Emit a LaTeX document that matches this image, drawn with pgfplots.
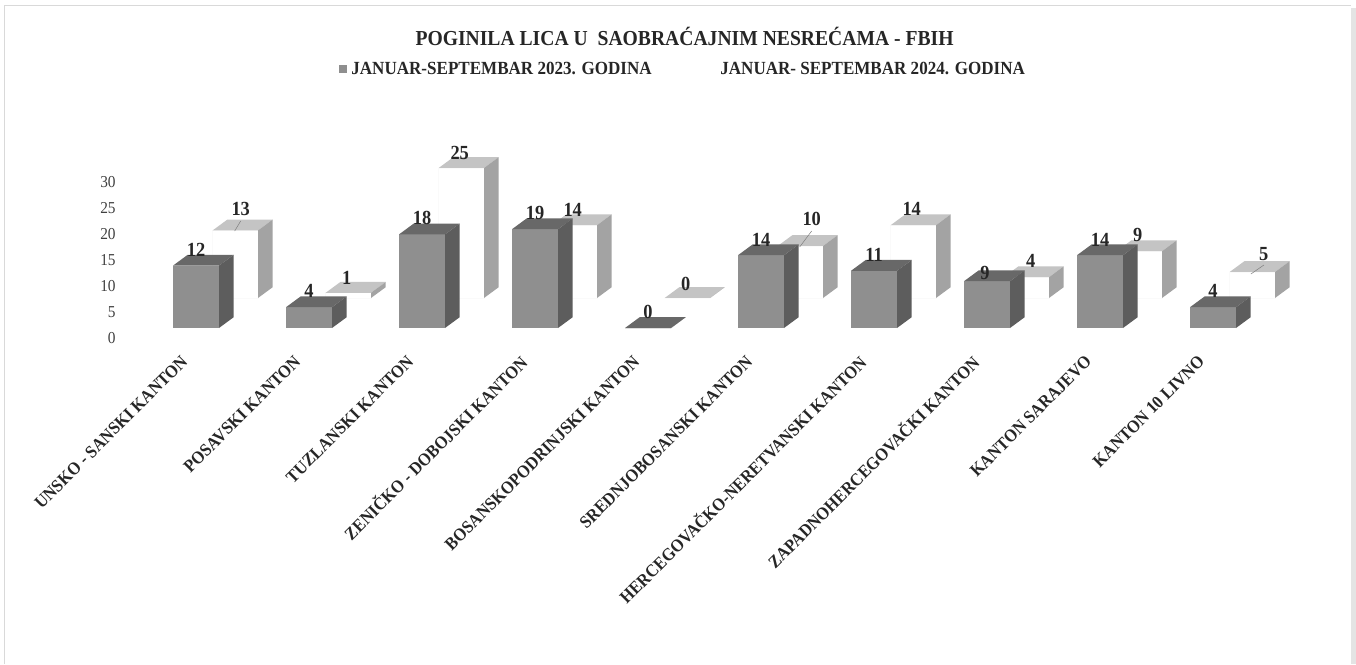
\documentclass[border=0pt]{standalone}
\usepackage{fontspec}
\setmainfont[FakeStretch=0.92]{Liberation Serif}
\usepackage{pgfplots}
\usepackage{pgfplotstable}
\pgfplotsset{compat=1.18}
\definecolor{frontA}{HTML}{8F8F8F}
\definecolor{topA}{HTML}{686868}
\definecolor{sideA}{HTML}{5D5D5D}
\definecolor{topB}{HTML}{C4C4C4}
\definecolor{sideB}{HTML}{A3A3A3}
\definecolor{ink}{HTML}{262626}
\definecolor{tickink}{HTML}{404040}
\definecolor{framec}{HTML}{D9D9D9}
\definecolor{paleedge}{HTML}{FAFAFA}
% 1 reference pixel = 0.75pt. Value unit = 5.2px = 3.9pt.
\pgfdeclareplotmark{boxA}{%
  \pgfmathsetmacro{\hh}{\vv*3.9}%
  \pgfsetfillcolor{frontA}%
  \pgfpathmoveto{\pgfpoint{-17.25pt}{0pt}}%
  \pgfpathlineto{\pgfpoint{17.25pt}{0pt}}%
  \pgfpathlineto{\pgfpoint{17.25pt}{-\hh pt}}%
  \pgfpathlineto{\pgfpoint{-17.25pt}{-\hh pt}}%
  \pgfpathclose\pgfusepathqfill
  \pgfsetfillcolor{topA}%
  \pgfpathmoveto{\pgfpoint{-17.25pt}{0pt}}%
  \pgfpathlineto{\pgfpoint{17.25pt}{0pt}}%
  \pgfpathlineto{\pgfpoint{28.25pt}{8.1pt}}%
  \pgfpathlineto{\pgfpoint{-6.25pt}{8.1pt}}%
  \pgfpathclose\pgfusepathqfill
  \pgfsetfillcolor{sideA}%
  \pgfpathmoveto{\pgfpoint{17.25pt}{0pt}}%
  \pgfpathlineto{\pgfpoint{28.25pt}{8.1pt}}%
  \pgfpathlineto{\pgfpoint{28.25pt}{8.1pt-\hh pt}}%
  \pgfpathlineto{\pgfpoint{17.25pt}{-\hh pt}}%
  \pgfpathclose\pgfusepathqfill
}
\pgfdeclareplotmark{boxB}{%
  \pgfmathsetmacro{\hh}{\vv*3.9}%
  \pgfsetfillcolor{white}%
  \pgfsetstrokecolor{paleedge}%
  \pgfsetlinewidth{0.5pt}%
  \pgfpathmoveto{\pgfpoint{12.5pt}{22.5pt}}%
  \pgfpathlineto{\pgfpoint{46.5pt}{22.5pt}}%
  \pgfpathlineto{\pgfpoint{46.5pt}{22.5pt-\hh pt}}%
  \pgfpathlineto{\pgfpoint{12.5pt}{22.5pt-\hh pt}}%
  \pgfpathclose\pgfusepathqfillstroke
  \pgfsetfillcolor{topB}%
  \pgfpathmoveto{\pgfpoint{12.5pt}{22.5pt}}%
  \pgfpathlineto{\pgfpoint{46.5pt}{22.5pt}}%
  \pgfpathlineto{\pgfpoint{57.5pt}{30.6pt}}%
  \pgfpathlineto{\pgfpoint{23.5pt}{30.6pt}}%
  \pgfpathclose\pgfusepathqfill
  \pgfsetfillcolor{sideB}%
  \pgfpathmoveto{\pgfpoint{46.5pt}{22.5pt}}%
  \pgfpathlineto{\pgfpoint{57.5pt}{30.6pt}}%
  \pgfpathlineto{\pgfpoint{57.5pt}{30.6pt-\hh pt}}%
  \pgfpathlineto{\pgfpoint{46.5pt}{22.5pt-\hh pt}}%
  \pgfpathclose\pgfusepathqfill
}
\pgfdeclareplotmark{leader}{%
  \pgfsetstrokecolor{gray}%
  \pgfsetlinewidth{0.4pt}%
  \pgfpathmoveto{\pgfpoint{0pt}{0pt}}%
  \pgfpathlineto{\pgfpoint{\ldx pt}{\ldy pt}}%
  \pgfusepathqstroke
}
\pgfplotstableread{
x y dx dy
0 12 0 15.6
1 4 0 16
2 18 0 16
3 19 0 16
4 0 0 16
5 14 0 15
6 11 0 15.8
7 9 -2 8
8 14 0 15
9 4 0 16
}\tabA
\pgfplotstableread{
x y dx dy
0 13 44.7 51.4
1 1 37.7 44.8
2 25 37.7 45
3 14 37.7 45.2
4 0 37.7 44
5 10 50.7 57
6 14 37.7 46
7 4 43.7 46
8 9 37.7 46
9 5 50.7 48
}\tabB
% start of the three label leader lines, and their run in pt
\pgfplotstableread{
x y ldx ldy
0.342 18.65 4.5 7.5
5.342 15.58 9 12
9.335 10.38 9.75 6.75
}\tabL
\begin{document}
\begin{tikzpicture}[x=0.75pt,y=0.75pt]
\path[use as bounding box] (0,0) rectangle (1356,664);
\fill[white] (0,0) rectangle (1356,664);
\fill[framec!70] (1351,0) rectangle (1356,656);
\draw[framec,line width=1.1pt] (4.5,0) -- (4.5,658.5) -- (1351,658.5);
\begin{axis}[
  at={(90.225pt,252pt)},anchor=south west,
  scale only axis,
  x=84.75pt,y=3.9pt,
  xmin=-0.67,xmax=10,ymin=0,ymax=30,
  clip=false,
  axis line style={draw=none},
  major tick length=0pt,
  /pgf/number format/assume math mode=true,
  xtick={0,1,2,3,4,5,6,7,8,9},
  xticklabels={UNSKO - SANSKI KANTON,POSAVSKI KANTON,TUZLANSKI KANTON,ZENIČKO - DOBOJSKI KANTON,BOSANSKOPODRINJSKI KANTON,SREDNJOBOSANSKI KANTON,HERCEGOVAČKO-NERETVANSKI KANTON,ZAPADNOHERCEGOVAČKI KANTON,KANTON SARAJEVO,KANTON 10 LIVNO},
  xticklabel style={font=\fontsize{13.3}{15}\selectfont\bfseries,text=ink,xshift=-6.25pt,yshift=-20.5pt,rotate=45,anchor=east},
  ytick={0,5,10,15,20,25,30},
  yticklabel style={font=\fontsize{12.5}{14}\selectfont,text=tickink,yshift=-7.5pt},
  title={POGINILA LICA U\ \ SAOBRAĆAJNIM NESREĆAMA - FBIH},
  title style={font=\fontsize{16}{19}\selectfont\bfseries,text=ink,at={(0.468,1.82)},anchor=center,yshift=0pt},
  legend style={at={(0.4671,1.66)},anchor=center,draw=none,fill=none,legend columns=2,
    font=\fontsize{13.9}{16}\selectfont\bfseries,text=ink,
    /tikz/every even column/.append style={column sep=40.5pt},
    /tikz/every odd column/.append style={column sep=1pt}},
]
\addlegendimage{legend image code/.code={\path[fill=frontA,draw=none] (0pt,-3pt) rectangle (6pt,3pt);}}
\addlegendentry{JANUAR-SEPTEMBAR 2023. GODINA}
\addlegendimage{legend image code/.code={\path[draw=none,fill=none] (0pt,-3pt) rectangle (6pt,3pt);}}
\addlegendentry{JANUAR- SEPTEMBAR 2024. GODINA}
% 2024 series
\addplot[forget plot,only marks,scatter,mark=boxB,scatter src=y,
  visualization depends on={y \as \vv},
  visualization depends on={\thisrow{dx} \as \ndx},
  visualization depends on={\thisrow{dy} \as \ndy},
  nodes near coords={\pgfmathprintnumber{\pgfplotspointmeta}},
  every node near coord/.append style={font=\fontsize{15}{17}\selectfont\bfseries,text=ink,anchor=center,xshift=\ndx*0.75pt,yshift=\ndy*0.75pt},
  ] table[x=x,y=y] {\tabB};
% 2023 series
\addplot[forget plot,only marks,scatter,mark=boxA,scatter src=y,
  visualization depends on={y \as \vv},
  visualization depends on={\thisrow{dx} \as \ndx},
  visualization depends on={\thisrow{dy} \as \ndy},
  nodes near coords={\pgfmathprintnumber{\pgfplotspointmeta}},
  every node near coord/.append style={font=\fontsize{15}{17}\selectfont\bfseries,text=ink,anchor=center,xshift=\ndx*0.75pt,yshift=\ndy*0.75pt},
  ] table[x=x,y=y] {\tabA};
% leader lines of the three displaced labels
\addplot[forget plot,only marks,scatter,mark=leader,scatter src=y,
  visualization depends on={\thisrow{ldx} \as \ldx},
  visualization depends on={\thisrow{ldy} \as \ldy},
  ] table[x=x,y=y] {\tabL};
\end{axis}
\end{tikzpicture}
\end{document}
